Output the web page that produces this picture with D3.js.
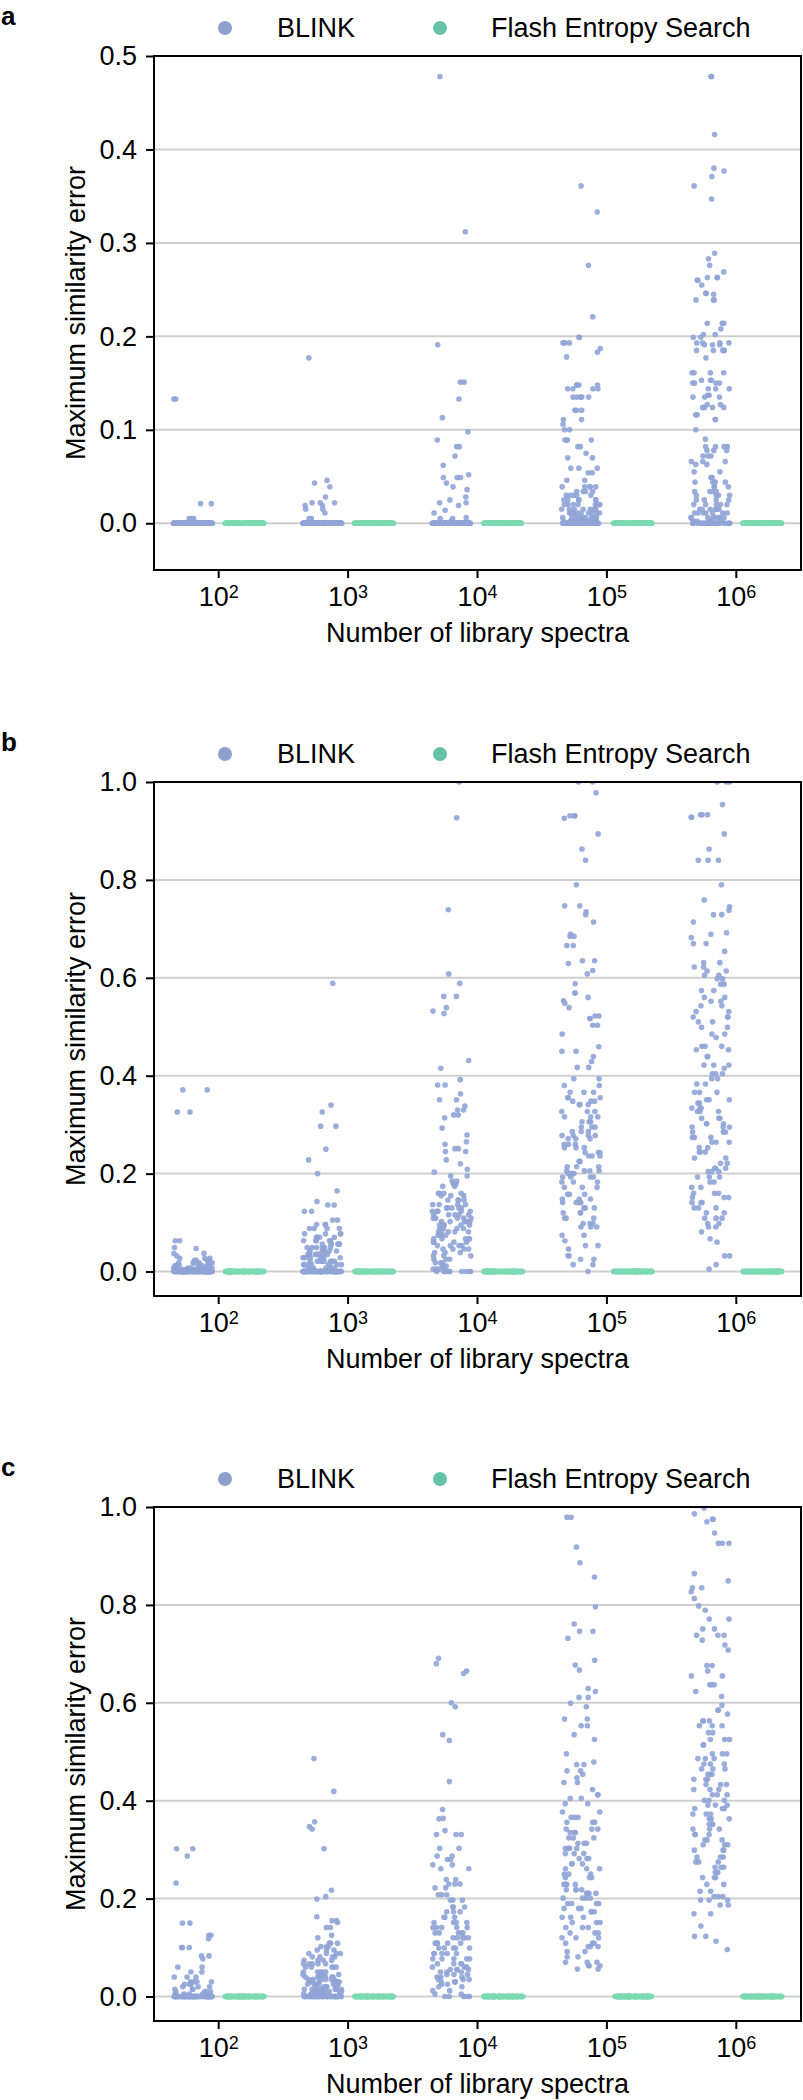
<!DOCTYPE html>
<html><head><meta charset="utf-8">
<script src="https://cdn.jsdelivr.net/npm/d3@7"></script>
<style>
body{margin:0;background:#fff}
svg text{font-family:"Liberation Sans",Arial,Helvetica,sans-serif;fill:#000}
</style></head>
<body><svg id="chart" width="803" height="2100"></svg>
<script>
// ---------- data ----------
const exponents = [2, 3, 4, 5, 6];               // x categories: 10^2 ... 10^6
const seriesNames = ["BLINK", "Flash Entropy Search"];
const seriesColors = ["#8da0cb", "#66c2a5"];
const pointColors = ["#90a4d6", "#7cd9b3"];
const panelLetters = ["a", "b", "c"];
const yTicksA = [0.0, 0.1, 0.2, 0.3, 0.4, 0.5];
const yTicksBC = [0.0, 0.2, 0.4, 0.6, 0.8, 1.0];
const yDomainA = [-0.05, 0.5];
const yDomainBC = [-0.05, 1.0];
const xTitle = "Number of library spectra";
const yTitle = "Maximum similarity error";

// BLINK values per category as [value, count]
const blinkA = [
  [[0.133,2],[0.021,2],[0.005,3],[0,150]],
  [[0.177,1],[0.046,1],[0.043,1],[0.039,1],[0.028,1],[0.022,3],[0.019,2],[0.015,2],[0.011,1],[0.005,2],[0,150]],
  [[0.478,1],[0.312,1],[0.191,1],[0.151,2],[0.133,1],[0.113,1],[0.098,1],[0.089,1],[0.082,2],[0.072,1],[0.062,1],[0.052,1],[0.049,3],[0.043,1],[0.039,1],[0.036,1],[0.028,1],[0.025,1],[0.022,2],[0.019,1],[0.014,1],[0.011,1],[0.006,1],[0.005,2],[0.003,1],[0,120]],
  [[0.361,1],[0.333,1],[0.276,1],[0.221,1],[0.199,2],[0.193,3],[0.187,1],[0.183,1],[0.178,1],[0.148,4],[0.144,4],[0.135,5],[0.121,3],[0.111,2],[0.106,1],[0.100,2],[0.089,4],[0.082,2],[0.075,1],[0.070,2],[0.059,3],[0.054,2],[0.046,2],[0.039,5],[0.034,4],[0.030,5],[0.025,6],[0.020,8],[0.015,8],[0.011,10],[0.006,12],[0.002,15],[0,60]],
  [[0.478,2],[0.416,1],[0.380,1],[0.377,1],[0.371,1],[0.361,1],[0.347,1],[0.289,1],[0.283,1],[0.276,1],[0.269,1],[0.263,3],[0.260,2],[0.255,1],[0.246,2],[0.245,1],[0.239,3],[0.214,3],[0.208,1],[0.202,2],[0.199,2],[0.193,4],[0.191,3],[0.185,5],[0.177,1],[0.161,4],[0.153,3],[0.150,4],[0.144,3],[0.137,2],[0.135,3],[0.127,2],[0.124,4],[0.116,2],[0.111,2],[0.100,1],[0.090,1],[0.082,4],[0.078,3],[0.072,3],[0.066,3],[0.063,2],[0.055,2],[0.049,2],[0.044,4],[0.039,3],[0.034,4],[0.030,4],[0.025,4],[0.020,5],[0.015,6],[0.011,7],[0.006,8],[0.002,6],[0,30]]
];
const blinkB = [
  [[0.371,2],[0.326,2],[0.063,2],[0.049,1],[0.047,1],[0.037,2],[0.032,1],[0.027,3],[0.023,4],[0.018,6],[0.012,8],[0.007,10],[0.004,10],[0,150]],
  [[0.589,1],[0.340,1],[0.326,1],[0.297,2],[0.250,1],[0.228,1],[0.200,1],[0.165,1],[0.143,1],[0.136,2],[0.123,2],[0.105,2],[0.096,3],[0.088,4],[0.077,4],[0.070,5],[0.063,5],[0.056,6],[0.049,6],[0.042,7],[0.035,8],[0.028,8],[0.021,8],[0.014,8],[0.007,6],[0,100]],
  [[1.0,1],[0.927,1],[0.739,1],[0.608,1],[0.589,1],[0.562,2],[0.539,1],[0.532,1],[0.527,1],[0.431,1],[0.415,1],[0.392,1],[0.381,2],[0.363,1],[0.351,2],[0.338,1],[0.330,2],[0.320,2],[0.314,1],[0.293,1],[0.279,1],[0.265,1],[0.260,1],[0.251,2],[0.245,2],[0.228,1],[0.220,1],[0.209,1],[0.203,1],[0.195,2],[0.185,2],[0.179,3],[0.174,2],[0.160,4],[0.155,3],[0.146,4],[0.137,4],[0.130,5],[0.123,5],[0.116,5],[0.109,5],[0.102,5],[0.095,5],[0.088,5],[0.081,5],[0.074,5],[0.067,5],[0.060,4],[0.053,4],[0.046,4],[0.039,3],[0.032,3],[0.025,3],[0.018,3],[0.011,3],[0.005,3],[0,12]],
  [[1.0,2],[0.978,1],[0.931,3],[0.926,1],[0.894,1],[0.863,1],[0.840,1],[0.790,1],[0.747,2],[0.735,1],[0.729,1],[0.714,1],[0.689,1],[0.685,2],[0.666,2],[0.635,2],[0.629,1],[0.615,1],[0.608,1],[0.588,1],[0.569,2],[0.560,1],[0.553,1],[0.548,1],[0.539,1],[0.522,2],[0.517,2],[0.503,2],[0.485,1],[0.459,1],[0.450,2],[0.439,1],[0.429,1],[0.417,2],[0.394,2],[0.380,2],[0.366,3],[0.355,3],[0.348,3],[0.341,3],[0.327,3],[0.316,3],[0.306,3],[0.295,3],[0.286,3],[0.278,4],[0.271,3],[0.260,3],[0.253,3],[0.243,3],[0.236,3],[0.225,3],[0.214,3],[0.206,4],[0.200,4],[0.193,4],[0.183,3],[0.172,3],[0.158,3],[0.148,3],[0.141,4],[0.130,3],[0.120,3],[0.109,3],[0.098,3],[0.091,3],[0.074,2],[0.063,1],[0.053,2],[0.046,1],[0.032,2],[0.025,2],[0.014,2],[0,1]],
  [[1.0,3],[0.954,1],[0.933,3],[0.928,2],[0.894,1],[0.863,1],[0.840,3],[0.790,1],[0.759,1],[0.745,1],[0.738,1],[0.729,2],[0.714,1],[0.692,1],[0.689,1],[0.682,1],[0.670,2],[0.654,1],[0.631,2],[0.622,2],[0.614,2],[0.605,2],[0.598,2],[0.587,2],[0.574,2],[0.560,2],[0.552,2],[0.543,2],[0.531,2],[0.520,3],[0.510,2],[0.499,2],[0.485,2],[0.478,1],[0.460,3],[0.453,2],[0.439,2],[0.422,3],[0.415,1],[0.404,3],[0.394,2],[0.383,2],[0.366,3],[0.351,3],[0.344,2],[0.334,3],[0.327,3],[0.313,3],[0.302,3],[0.295,3],[0.285,3],[0.274,3],[0.264,3],[0.253,2],[0.244,3],[0.232,2],[0.221,2],[0.211,3],[0.204,3],[0.193,3],[0.183,2],[0.172,2],[0.160,3],[0.151,3],[0.141,3],[0.130,3],[0.120,2],[0.109,3],[0.098,2],[0.091,2],[0.081,1],[0.067,1],[0.060,1],[0.032,2],[0.014,1],[0.005,1]]
];
const blinkC = [
  [[0.302,2],[0.287,1],[0.232,1],[0.150,2],[0.125,2],[0.118,1],[0.100,3],[0.083,2],[0.077,1],[0.060,2],[0.050,2],[0.040,3],[0.030,4],[0.025,3],[0.020,3],[0.015,3],[0.010,4],[0.005,5],[0,100]],
  [[0.486,1],[0.419,1],[0.357,1],[0.347,1],[0.342,1],[0.302,1],[0.217,1],[0.204,1],[0.199,1],[0.163,1],[0.155,2],[0.151,1],[0.141,2],[0.125,1],[0.120,1],[0.109,3],[0.102,3],[0.095,3],[0.088,4],[0.081,4],[0.074,4],[0.067,5],[0.060,5],[0.050,5],[0.045,5],[0.040,6],[0.035,6],[0.030,7],[0.025,7],[0.020,8],[0.015,8],[0.010,8],[0.005,8],[0,60]],
  [[0.691,1],[0.680,1],[0.665,1],[0.660,1],[0.600,1],[0.592,1],[0.535,1],[0.523,1],[0.439,1],[0.382,1],[0.364,1],[0.363,1],[0.339,1],[0.331,3],[0.303,2],[0.287,2],[0.280,2],[0.269,2],[0.261,2],[0.239,2],[0.230,3],[0.222,2],[0.208,3],[0.197,3],[0.183,3],[0.173,3],[0.162,3],[0.151,4],[0.141,5],[0.130,5],[0.120,5],[0.109,5],[0.099,5],[0.088,5],[0.077,5],[0.067,4],[0.060,4],[0.055,4],[0.050,3],[0.045,3],[0.040,3],[0.035,3],[0.030,3],[0.025,2],[0.020,2],[0.012,2],[0.005,2],[0,6]],
  [[0.979,2],[0.918,1],[0.886,1],[0.857,1],[0.796,1],[0.761,1],[0.746,2],[0.732,1],[0.687,1],[0.677,1],[0.667,1],[0.629,1],[0.623,1],[0.611,2],[0.599,1],[0.592,1],[0.567,2],[0.553,2],[0.535,1],[0.525,1],[0.496,1],[0.479,1],[0.474,2],[0.461,2],[0.454,1],[0.447,1],[0.437,2],[0.423,1],[0.412,2],[0.405,2],[0.394,2],[0.377,2],[0.366,3],[0.356,3],[0.342,3],[0.335,3],[0.324,3],[0.313,3],[0.303,4],[0.292,3],[0.282,3],[0.271,3],[0.261,3],[0.250,3],[0.243,3],[0.229,4],[0.218,4],[0.211,4],[0.201,4],[0.190,4],[0.180,3],[0.173,3],[0.162,3],[0.151,3],[0.141,3],[0.130,3],[0.120,3],[0.109,3],[0.102,3],[0.092,2],[0.081,2],[0.070,3],[0.063,3],[0.056,2]],
  [[0.998,1],[0.986,1],[0.975,2],[0.970,1],[0.947,1],[0.926,3],[0.864,1],[0.849,1],[0.835,2],[0.827,1],[0.813,1],[0.798,1],[0.789,1],[0.771,2],[0.751,2],[0.738,3],[0.728,1],[0.718,1],[0.708,1],[0.676,2],[0.665,1],[0.655,2],[0.637,3],[0.623,1],[0.613,1],[0.595,1],[0.585,2],[0.577,1],[0.563,3],[0.553,3],[0.539,2],[0.525,3],[0.514,2],[0.496,3],[0.486,3],[0.475,3],[0.465,3],[0.454,3],[0.444,3],[0.433,3],[0.423,3],[0.412,3],[0.401,3],[0.391,3],[0.384,3],[0.373,3],[0.363,3],[0.352,3],[0.342,3],[0.331,3],[0.320,3],[0.310,3],[0.299,3],[0.285,3],[0.275,3],[0.264,3],[0.254,3],[0.243,3],[0.229,2],[0.215,2],[0.204,3],[0.197,3],[0.187,2],[0.169,2],[0.144,1],[0.123,2],[0.113,1],[0.096,1]]
];
// Flash Entropy Search: every value is 0, counts per category
const flashA = [[[0,150]],[[0,150]],[[0,150]],[[0,150]],[[0,150]]];
const flashB = [[[0,150]],[[0,150]],[[0,150]],[[0,150]],[[0,150]]];
const flashC = [[[0,150]],[[0,150]],[[0,150]],[[0,150]],[[0,150]]];

// ---------- drawing ----------
const panels = [
  {letter: panelLetters[0], blink: blinkA, flash: flashA, ticks: yTicksA, domain: yDomainA},
  {letter: panelLetters[1], blink: blinkB, flash: flashB, ticks: yTicksBC, domain: yDomainBC},
  {letter: panelLetters[2], blink: blinkC, flash: flashC, ticks: yTicksBC, domain: yDomainBC}
];
const panelOffsets = [0, 726, 1451];
const L = 154, R = 801, T = 56, B = 570;
const FS = 27;

function mulberry32(a){return function(){a|=0;a=a+0x6D2B79F5|0;let t=Math.imul(a^a>>>15,1|a);t=t+Math.imul(t^t>>>7,61|t)^t;return((t^t>>>14)>>>0)/4294967296;}}
function expand(pairs){const out=[];pairs.forEach(([v,n])=>{for(let k=0;k<n;k++)out.push(v);});return out;}

const svg = d3.select("#chart");
const x = d3.scaleBand().domain(exponents).range([L, R]).paddingInner(0).paddingOuter(0);
const bw = x.bandwidth();

panels.forEach((p, pi) => {
  const g = svg.append("g").attr("transform", `translate(0,${panelOffsets[pi]})`);
  const y = d3.scaleLinear().domain(p.domain).range([B, T]);

  // panel letter
  g.append("text").attr("x", 1).attr("y", 25).attr("font-size", 26).attr("font-weight", "bold").text(p.letter);

  // legend
  const legX = [[225, 277], [440, 491]];
  seriesNames.forEach((name, si) => {
    g.append("circle").attr("cx", legX[si][0]).attr("cy", T - 28).attr("r", 7).attr("fill", seriesColors[si]);
    g.append("text").attr("x", legX[si][1]).attr("y", T - 28).attr("dy", "0.35em").attr("font-size", FS).text(name);
  });

  // grid
  g.append("g").selectAll("line").data(p.ticks.filter(t => y(t) > T + 1)).join("line")
    .attr("x1", L).attr("x2", R).attr("y1", d => y(d)).attr("y2", d => y(d))
    .attr("stroke", "#cfcfcf").attr("stroke-width", 2);

  // points
  const clipId = "clip" + pi;
  g.append("clipPath").attr("id", clipId).append("rect").attr("x", L).attr("y", T).attr("width", R - L).attr("height", B - T);
  const pts = g.append("g").attr("clip-path", `url(#${clipId})`);
  [p.blink, p.flash].forEach((ser, si) => {
    ser.forEach((pairs, ci) => {
      const vals = expand(pairs);
      const rnd = mulberry32(1000 * pi + 100 * si + ci + 7);
      const cx0 = x(exponents[ci]) + bw / 2 + (si === 0 ? -0.2 : 0.2) * bw;
      const data = vals.map(v => ({v, j: (rnd() - 0.5) * 0.30 * bw}));
      pts.selectAll(null).data(data).join("circle")
        .attr("cx", d => cx0 + d.j).attr("cy", d => y(d.v)).attr("r", 2.8)
        .attr("fill", pointColors[si]).attr("fill-opacity", 0.9);
    });
  });

  // axes
  const ya = g.append("g").attr("transform", `translate(${L},0)`)
    .call(d3.axisLeft(y).tickValues(p.ticks).tickSize(8).tickPadding(9).tickFormat(d3.format(".1f")));
  ya.select(".domain").remove();
  ya.selectAll("line").attr("stroke", "#000").attr("stroke-width", 2);
  ya.selectAll("text").attr("font-size", FS).attr("font-family", null);

  const xa = g.append("g").attr("transform", `translate(0,${B})`)
    .call(d3.axisBottom(x).tickSize(8).tickPadding(9).tickFormat(() => ""));
  xa.select(".domain").remove();
  xa.selectAll("line").attr("stroke", "#000").attr("stroke-width", 2);
  xa.selectAll(".tick text").attr("font-size", FS).attr("font-family", null).each(function(d){
    const t = d3.select(this);
    t.text("10");
    t.append("tspan").attr("font-size", 18).attr("dy", "-0.45em").text(d);
  });

  // frame
  g.append("rect").attr("x", L).attr("y", T).attr("width", R - L).attr("height", B - T)
    .attr("fill", "none").attr("stroke", "#000").attr("stroke-width", 2);

  // axis titles
  g.append("text").attr("x", (L + R) / 2).attr("y", 642).attr("text-anchor", "middle").attr("font-size", FS).text(xTitle);
  g.append("text").attr("transform", `translate(76,${(T + B) / 2}) rotate(-90)`).attr("dy", "0.35em")
    .attr("text-anchor", "middle").attr("font-size", FS).text(yTitle);
});
</script></body></html>
